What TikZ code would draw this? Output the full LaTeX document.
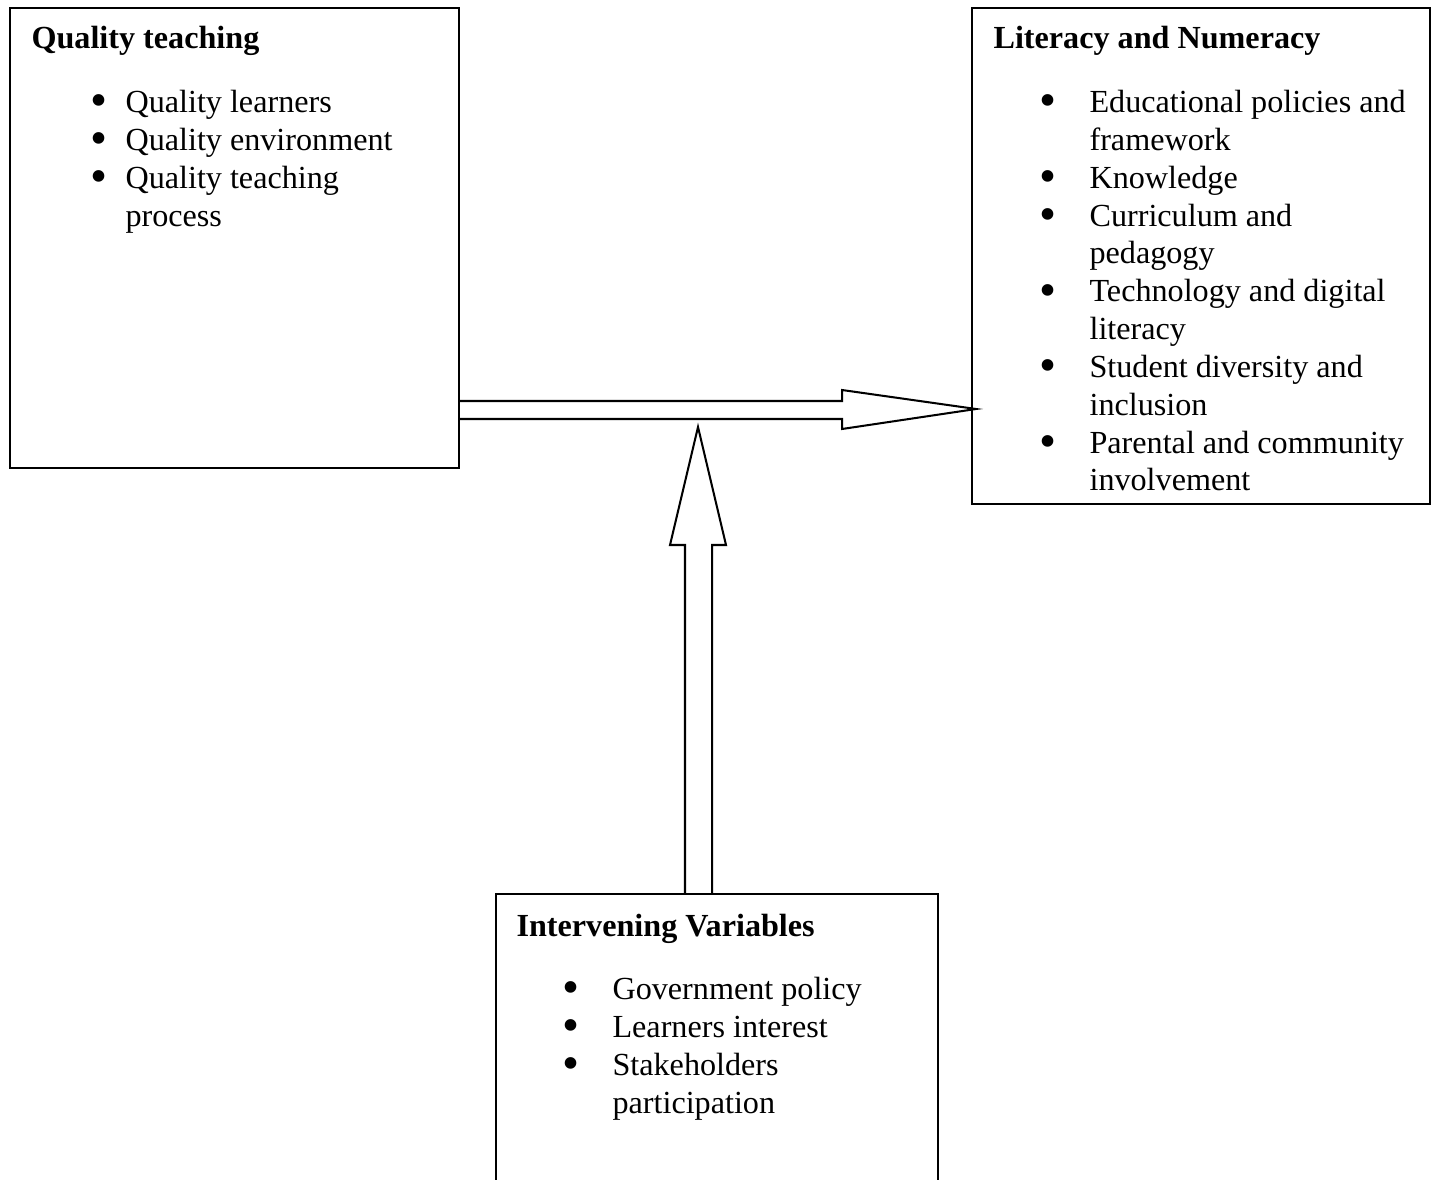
\documentclass[tikz,border=0pt]{standalone}
\usepackage{fontspec}
\setmainfont{Liberation Serif}
\usetikzlibrary{positioning,calc}

\newlength\px \setlength\px{0.37pt}
\newlength\bulx \newlength\txtx
\newcommand{\bdot}{\raisebox{-1.6pt}{\fontsize{18}{14}\selectfont\textbullet}}
\newcommand{\bitem}[1]{\rlap{\hspace*{\bulx}\makebox[0pt]{\bdot}}\hspace*{\txtx}#1}
\newcommand{\bcont}[1]{\hspace*{\txtx}#1}

\begin{document}
\begin{tikzpicture}[
x=0.37pt, y=-0.37pt,
box/.style={draw, line width=0.75pt, anchor=north west, inner sep=0pt},
txt/.style={anchor=base west, inner sep=0pt, font=\fontsize{11.9}{14}\selectfont},
blk/.style={draw, line width=0.75pt, line join=miter}
]
\useasboundingbox (0,0) rectangle (1432,1180);
\clip (0,0) rectangle (1432,1180);

\node[box, minimum width=449\px, minimum height=460\px] (quality) at (9,7) {};
\node[box, minimum width=458\px, minimum height=496\px] (literacy) at (971,7) {};
\node[box, minimum width=442\px, minimum height=340\px] (interv) at (495,893) {};

\node[txt] (qualitytxt) at (31,49) {\setlength\bulx{67\px}\setlength\txtx{94\px}%
\begin{tabular}[t]{@{}l@{}}
\textbf{Quality teaching}\\[9.5pt]
\bitem{Quality learners}\\
\bitem{Quality environment}\\
\bitem{Quality teaching}\\
\bcont{process}
\end{tabular}};

\node[txt] (literacytxt) at (993,49) {\setlength\bulx{54\px}\setlength\txtx{96\px}%
\begin{tabular}[t]{@{}l@{}}
\textbf{Literacy and Numeracy}\\[9.5pt]
\bitem{Educational policies and}\\
\bcont{framework}\\
\bitem{Knowledge}\\
\bitem{Curriculum and}\\
\bcont{pedagogy}\\
\bitem{Technology and digital}\\
\bcont{literacy}\\
\bitem{Student diversity and}\\
\bcont{inclusion}\\
\bitem{Parental and community}\\
\bcont{involvement}
\end{tabular}};

\node[txt] (intervtxt) at (516,936) {\setlength\bulx{54\px}\setlength\txtx{96\px}%
\begin{tabular}[t]{@{}l@{}}
\textbf{Intervening Variables}\\[9.5pt]
\bitem{Government policy}\\
\bitem{Learners interest}\\
\bitem{Stakeholders}\\
\bcont{participation}
\end{tabular}};

% block arrows
\coordinate (htip) at ($(literacy.west |- 0,409)+(5,0)$);
\draw[blk] (quality.east |- 0,401) -- (842,401) -- (842,390) -- (htip)
  -- (842,429) -- (842,419) -- (quality.east |- 0,419);
\coordinate (vtip) at (698,427);
\draw[blk] (interv.north -| 685,0) -- (685,545) -- (670,545) -- (vtip)
  -- (726,545) -- (712,545) -- (interv.north -| 712,0);
\end{tikzpicture}
\end{document}
